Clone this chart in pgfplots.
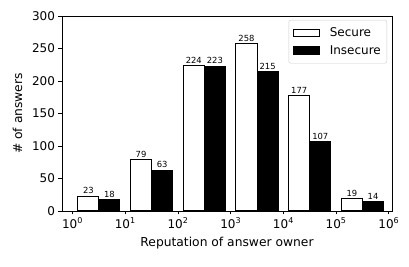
\documentclass[border=0pt]{standalone}
\usepackage{fontspec}
\setmainfont{DejaVu Sans}
\usepackage{pgfplots}
\pgfplotsset{compat=1.18}
\begin{document}
\begin{tikzpicture}
\begin{axis}[
  scale only axis, width=330pt, height=195pt,
  xmin=-0.2, xmax=6.06, ymin=0, ymax=300,
  xtick={0,1,2,3,4,5,6},
  xticklabels={10\textsuperscript{0},10\textsuperscript{1},10\textsuperscript{2},10\textsuperscript{3},10\textsuperscript{4},10\textsuperscript{5},10\textsuperscript{6}},
  ytick={0,50,...,300},
  tick align=outside, xtick pos=bottom, ytick pos=left,
  major tick length=3.5pt,
  axis line style={line width=0.8pt},
  tick style={line width=0.8pt, black},
  tick label style={font=\fontsize{12}{14}\selectfont},
  /pgf/number format/assume math mode=true,
  xlabel={Reputation of answer owner}, ylabel={\# of answers},
  label style={font=\fontsize{12.3}{14}\selectfont},
  xlabel shift=1.5pt,
  ylabel shift=3pt,
  ybar, bar width=0.4,
  nodes near coords,
  nodes near coords style={font=\fontsize{8.4}{9}\selectfont, inner sep=1.5pt, black},
  legend style={at={(0.985,0.98)}, anchor=north east, draw=black!20, rounded corners=2pt,
    font=\fontsize{12}{14}\selectfont, inner xsep=4pt, inner ysep=5.5pt, row sep=3.5pt,
    column sep=8pt, nodes={inner sep=2pt}},
  legend cell align=left,
]
\addplot[fill=white, draw=black, line width=1pt, bar shift=0pt,
  legend image code/.code={\draw[sharp corners, fill=white, draw=black, line width=1pt] (0pt,-3.75pt) rectangle (26pt,3.75pt);}]
  coordinates {(0.3,23)(1.3,79)(2.3,224)(3.3,258)(4.3,177)(5.3,19)};
\addlegendentry{Secure}
\addplot[fill=black, draw=black, line width=1pt, bar shift=0pt,
  legend image code/.code={\draw[sharp corners, fill=black, draw=black, line width=1pt] (0pt,-3.75pt) rectangle (26pt,3.75pt);}]
  coordinates {(0.7,18)(1.7,63)(2.7,223)(3.7,215)(4.7,107)(5.7,14)};
\addlegendentry{Insecure}
\end{axis}
\pgfresetboundingbox
\path (current axis.south west) ++(-62pt,-56pt) coordinate (bl);
\path (current axis.north east) ++(17pt,16pt) coordinate (tr);
\path[use as bounding box] (bl) rectangle (tr);
\end{tikzpicture}
\end{document}
